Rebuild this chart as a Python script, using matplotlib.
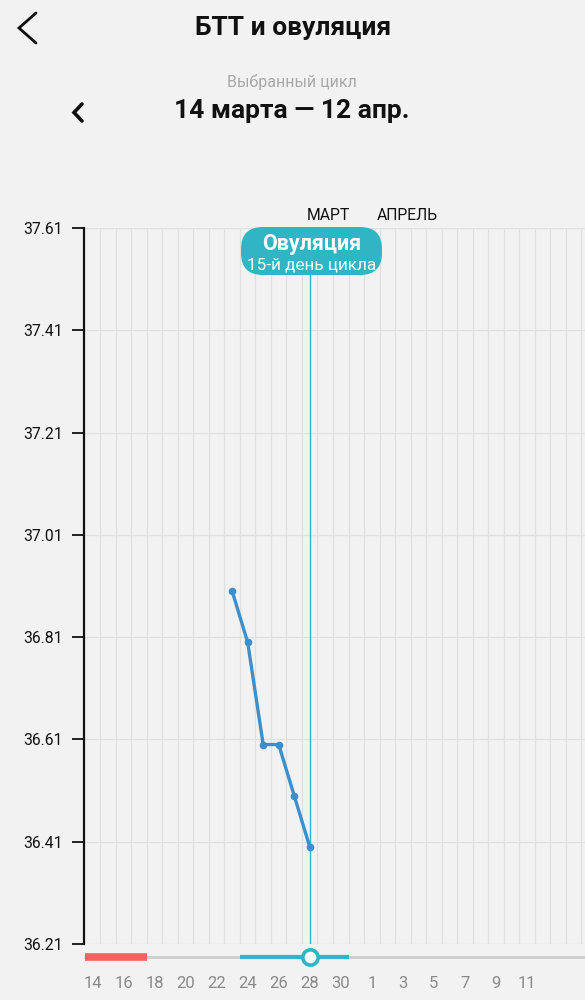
import matplotlib
matplotlib.use("Agg")
import matplotlib.pyplot as plt
from matplotlib.patches import FancyBboxPatch
from matplotlib.lines import Line2D
from matplotlib.transforms import IdentityTransform

plt.rcParams['font.family'] = ['Roboto', 'DejaVu Sans']

# ---- data ----
day_labels = ["14", "16", "18", "20", "22", "24", "26", "28", "30",
              "1", "3", "5", "7", "9", "11"]
label_idx = [0, 2, 4, 6, 8, 10, 12, 14, 16, 18, 20, 22, 24, 26, 28]
temp_idx = [9, 10, 11, 12, 13, 14]
temps = [36.90, 36.80, 36.60, 36.60, 36.50, 36.40]
y_ticks = [36.21, 36.41, 36.61, 36.81, 37.01, 37.21, 37.41, 37.61]
period_days = [0, 3]        # menstruation: 14-17 March
fertile_days = [10, 16]     # fertile window: 24-30 March
ovulation_idx = 14          # 28 March, 15th cycle day
month_labels = ["МАРТ", "АПРЕЛЬ"]
month_pos = [15.2, 20.3]

BG = '#f2f2f2'
TEAL = '#2fb5c4'
LINE = '#3a8fcc'
GRID = '#e0e0e0'

W, H = 585, 1000
fig = plt.figure(figsize=(W / 100, H / 100), dpi=100, facecolor=BG)

def fx(px):
    return px / W

def fy(py):
    return 1 - py / H

# ---- header ----
fig.text(fx(293), fy(28), "БТТ и овуляция", ha='center', va='center',
         fontsize=19, fontweight='bold', color='#111111')
fig.text(fx(292), fy(82), "Выбранный цикл", ha='center', va='center',
         fontsize=11.5, color='#a8a8a8')
fig.text(fx(292), fy(111), "14 марта — 12 апр.", ha='center', va='center',
         fontsize=19, fontweight='bold', color='#111111')
fig.add_artist(Line2D([fx(36), fx(19), fx(36)], [fy(13), fy(28), fy(43)],
                      color='#111111', lw=2.0, solid_capstyle='round',
                      solid_joinstyle='miter'))
fig.add_artist(Line2D([fx(82), fx(74), fx(82)], [fy(104), fy(112.5), fy(121)],
                      color='#111111', lw=2.6, solid_capstyle='round',
                      solid_joinstyle='miter'))

# ---- main axes ----
xmin, xmax = -0.58, 31.74
ax = fig.add_axes([fx(83.5), fy(944), fx(585) - fx(83.5), fy(228) - fy(944)])
ax.set_facecolor(BG)
ax.set_xlim(xmin, xmax)
ax.set_ylim(36.21, 37.61)
for v in range(0, 33):
    ax.axvline(v + 0.5, color=GRID, lw=0.9, zorder=0)
for t in y_ticks:
    ax.axhline(t, color=GRID, lw=0.9, zorder=0)
ax.set_yticks(y_ticks)
ax.set_yticklabels([f"{t:.2f}" for t in y_ticks], fontsize=11.3, color='#111111')
ax.tick_params(axis='y', direction='out', length=8.6, width=1.3, color='#111111', pad=6.3)
ax.set_xticks([])
for s in ['top', 'right', 'bottom']:
    ax.spines[s].set_visible(False)
ax.spines['left'].set_linewidth(1.6)
ax.spines['left'].set_color('#111111')

ax.plot(temp_idx, temps, color=LINE, lw=2.4, marker='o', ms=4.5, zorder=4,
        solid_joinstyle='round')
ax.axvline(ovulation_idx, color=TEAL, lw=1.0, zorder=3)

# month labels (centre ~13 px above the plot top)
for lbl, p in zip(month_labels, month_pos):
    ax.text(p, 37.61 + 13 * (1.4 / 716), lbl, ha='center', va='center',
            fontsize=11.3, color='#111111', clip_on=False)

# ovulation callout, drawn in display pixels
r = 22
bx0, bx1, by_top, by_bot = 241, 382, 227, 275
box = FancyBboxPatch((bx0 + r, H - by_bot + r), (bx1 - bx0) - 2 * r,
                     (by_bot - by_top) - 2 * r,
                     boxstyle=f"round,pad={r}", transform=IdentityTransform(),
                     facecolor=TEAL, edgecolor='none', zorder=10)
fig.add_artist(box)
fig.text(fx(311.5), fy(244), "Овуляция", ha='center', va='center',
         fontsize=15.5, fontweight='bold', color='white', zorder=11)
fig.text(fx(311.5), fy(265), "15-й день цикла", ha='center', va='center',
         fontsize=12.3, color='white', zorder=11)

# ---- bottom strip ----
sx = fig.add_axes([fx(83.5), fy(1000), fx(585) - fx(83.5), fy(946) - fy(1000)])
sx.set_facecolor(BG)
sx.set_xlim(xmin, xmax)
sx.set_ylim(0, 54)
sx.axis('off')
sx.plot([xmin, xmax], [43, 43], color='#cccccc', lw=2.0, solid_capstyle='butt')
sx.plot([period_days[0] - 0.5, period_days[1] + 0.5], [43, 43], color='#f26262',
        lw=5.5, solid_capstyle='butt')
sx.plot([fertile_days[0] - 0.5, fertile_days[1] + 0.5], [43, 43], color=TEAL,
        lw=3.0, solid_capstyle='butt')
sx.plot([ovulation_idx], [43], marker='o', ms=11, mfc='white', mec=TEAL, mew=2.6)
for i, lbl in zip(label_idx, day_labels):
    sx.text(i, 17, lbl, ha='center', va='center', fontsize=12, color='#8a8a8a')

fig.savefig("out.png", dpi=100, facecolor=BG)
